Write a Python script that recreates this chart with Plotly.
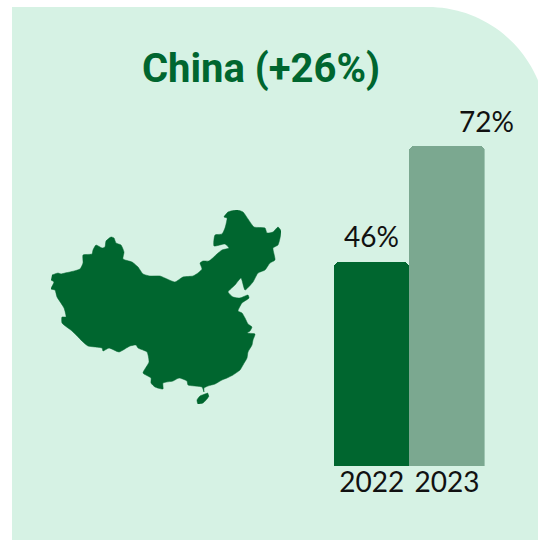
import numpy as np
import plotly.graph_objects as go

# Survey shares by year
years = ["2022", "2023"]
shares = [46, 72]
chart_title = "China (+26%)"

# Outline of the mainland and of Hainan, traced in map units
mainland_x = [52, 58, 61, 65, 70, 80, 83, 83, 92, 93, 96, 102, 105, 106, 111, 114, 116, 121, 124, 123,
              132, 138, 143, 150, 160, 167, 175, 183, 193, 198, 202, 200, 203, 209, 217, 222, 229, 225,
              214, 215, 222, 225, 227, 224, 228, 237, 243, 248, 254, 265, 267, 273, 278, 281, 278, 273,
              275, 270, 265, 258, 253, 245, 241, 235, 228, 233, 240, 248, 249, 242, 238, 242, 245, 248, 252,
              250, 247, 255, 253, 252, 248, 247, 243, 240, 233, 227, 222, 215, 208, 204, 204, 202, 188, 187,
              179, 173, 163, 163, 155, 151, 151, 143, 149, 147, 138, 136, 130, 119, 109, 103, 102, 88, 83,
              72, 62, 62, 66, 64, 57, 55, 51, 54, 51]
mainland_y = [275, 273, 274, 273, 272, 269, 263, 255, 254, 250, 245, 248, 247, 241, 237, 238, 243, 245, 252, 259,
              262, 267, 274, 276, 276, 279, 282, 277, 276, 273, 269, 263, 261, 261, 254, 250, 248, 244,
              246, 235, 234, 228, 218, 217, 212, 210, 212, 219, 227, 228, 233, 232, 227, 231, 245, 248,
              260, 263, 270, 273, 282, 290, 278, 285, 292, 297, 298, 295, 298, 303, 311, 313, 318, 324, 327,
              331, 333, 334, 340, 345, 352, 358, 365, 370, 375, 378, 380, 384, 386, 388, 392, 387, 385, 381,
              378, 381, 383, 389, 387, 383, 378, 373, 362, 352, 348, 345, 346, 352, 348, 351, 348, 346, 342,
              331, 323, 317, 317, 308, 297, 290, 289, 282, 280]
hainan_x = [208, 200, 197, 198, 203, 207, 209]
hainan_y = [393, 396, 400, 404, 403, 399, 396]

W, H = 538, 540
DARK = "#00662F"
LIGHT = "#7BA890"
PANEL = "#D6F2E4"
FONT = "Lato"

# Panel with a large rounded top-right corner
left, top, radius, cx = 12, 7, 119, 428
angles = np.linspace(-np.pi / 2, 0, 40)
arc = [(cx + radius * np.cos(a), top + radius + radius * np.sin(a)) for a in angles]
arc = [(x, y) for x, y in arc if x <= W] + [(W, top + radius - np.sqrt(radius**2 - (W - cx)**2))]
corners = [(left, H), (left, top)] + arc + [(W, H)]
panel_path = "M " + " L ".join(f"{x / W:.5f},{1 - y / H:.5f}" for x, y in corners) + " Z"

baseline_px, px_per_unit, y_max = 466, 204 / 46, 80

fig = go.Figure()
fig.add_bar(x=years, y=shares, marker=dict(color=[DARK, LIGHT], line_width=0), hoverinfo="skip")
for xs, ys in ((mainland_x, mainland_y), (hainan_x, hainan_y)):
    fig.add_scatter(x=xs, y=ys, xaxis="x2", yaxis="y2", mode="lines", fill="toself",
                    fillcolor=DARK, line=dict(color=DARK, width=0.5, shape="spline", smoothing=0.5),
                    hoverinfo="skip")

# Value labels above the bars, placed by category index; the later one sits off to the right
for index, (share, shift) in enumerate(zip(shares, (0, 40))):
    fig.add_annotation(xref="x", yref="y", x=index, y=share, text=f"{share}%", showarrow=False, xshift=shift,
                       yanchor="bottom", yshift=7, font=dict(family=FONT, size=28, color="#111111"))

fig.update_layout(
    width=W, height=H, autosize=False, margin=dict(l=0, r=0, t=0, b=0),
    paper_bgcolor="white", plot_bgcolor="rgba(0,0,0,0)", showlegend=False, bargap=0, barcornerradius=5,
    title=dict(text=f"<b>{chart_title}</b>", x=261 / W, y=1 - 68 / H, xanchor="center", yanchor="middle",
               font=dict(family="Roboto", size=40, color=DARK)),
    shapes=[dict(type="path", xref="paper", yref="paper", path=panel_path, fillcolor=PANEL,
                 line_width=0, layer="below")],
    xaxis=dict(domain=[334 / W, 484.6 / W], type="category", range=[-0.5, 1.5], showgrid=False, zeroline=False,
               showline=False, ticks="", ticklabelstandoff=-3,
               tickfont=dict(family=FONT, size=28, color="#111111")),
    yaxis=dict(domain=[1 - baseline_px / H, 1 - (baseline_px - px_per_unit * y_max) / H], range=[0, y_max],
               visible=False),
    xaxis2=dict(domain=[51 / W, 281 / W], range=[51, 281], visible=False),
    yaxis2=dict(domain=[1 - 404 / H, 1 - 210 / H], range=[404, 210], visible=False),
)

fig.write_html("out.html", config=dict(displayModeBar=False))
